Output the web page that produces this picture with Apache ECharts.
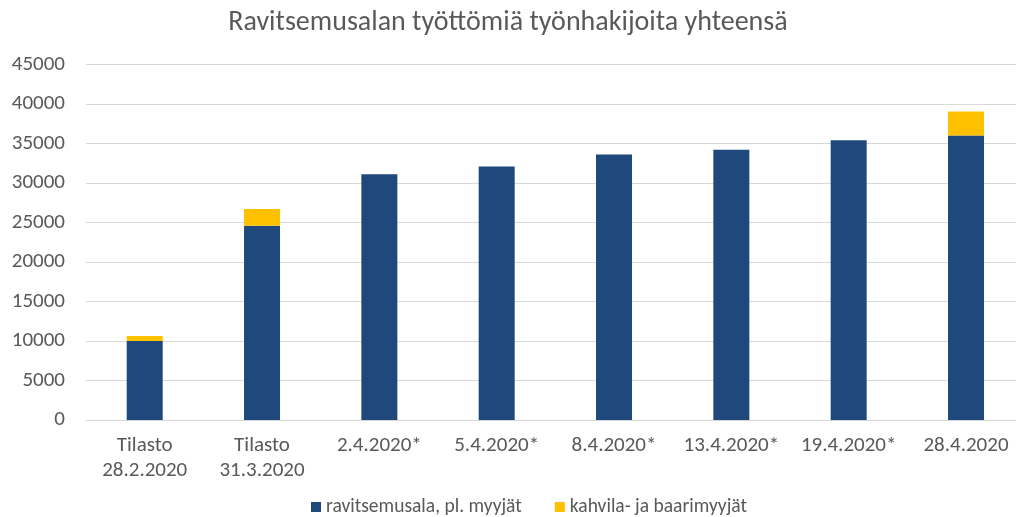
<!DOCTYPE html>
<html>
<head>
<meta charset="utf-8">
<script src="https://cdn.jsdelivr.net/npm/echarts@6/dist/echarts.min.js"></script>
<style>
  html, body { margin: 0; padding: 0; background: #fff; }
  #chart { width: 1016px; height: 517px; }
</style>
</head>
<body>
<div id="chart"></div>
<script>
var chartTitle = 'Ravitsemusalan työttömiä työnhakijoita yhteensä';
var categories = ['Tilasto\n28.2.2020', 'Tilasto\n31.3.2020', '2.4.2020*', '5.4.2020*', '8.4.2020*', '13.4.2020*', '19.4.2020*', '28.4.2020'];
var seriesNames = ['ravitsemusala, pl. myyjät', 'kahvila- ja baarimyyjät'];
var ravitsemusala = [10000, 24600, 31100, 32100, 33600, 34200, 35400, 36000];
var kahvilaBaari = [640, 2100, '-', '-', '-', '-', '-', 3050];

var font = 'Carlito, Calibri, Lato, sans-serif';
var myChart = echarts.init(document.getElementById('chart'));
// grid 0 draws the gridlines, grid 1 places the bars (the original plot runs off the right edge)
var option = {
  backgroundColor: '#fff',
  title: {
    text: chartTitle,
    left: 'center',
    top: 4,
    textStyle: { fontFamily: font, fontSize: 28, fontWeight: 'normal', color: '#595959' }
  },
  legend: {
    data: seriesNames,
    top: 492,
    left: 306,
    itemWidth: 10,
    itemHeight: 10,
    itemGap: 33,
    icon: 'rect',
    textStyle: { fontFamily: font, fontSize: 19.5, color: '#595959' }
  },
  grid: [
    { left: 86, top: 64.5, right: 0, bottom: 97, containLabel: false },
    { left: 144.7, top: 64.5, right: 50, bottom: 97, containLabel: false }
  ],
  xAxis: [
    {
      type: 'category',
      gridIndex: 0,
      data: categories,
      axisLine: { lineStyle: { color: '#d9d9d9' } },
      axisTick: { show: false },
      axisLabel: { show: false }
    },
    {
      type: 'category',
      gridIndex: 1,
      boundaryGap: false,
      data: categories,
      axisLine: { show: false },
      axisTick: { show: false },
      axisLabel: { fontFamily: font, fontSize: 21, color: '#595959', margin: 13, lineHeight: 25, interval: 0 }
    }
  ],
  yAxis: [
    {
      type: 'value',
      gridIndex: 0,
      min: 0,
      max: 45000,
      interval: 5000,
      axisLine: { show: false },
      axisTick: { show: false },
      splitLine: { lineStyle: { color: '#d9d9d9' } },
      axisLabel: { fontFamily: font, fontSize: 21, color: '#595959', margin: 21, formatter: function (v) { return String(v); } }
    },
    {
      type: 'value',
      gridIndex: 1,
      min: 0,
      max: 45000,
      interval: 5000,
      show: false,
      splitLine: { show: false }
    }
  ],
  series: [
    {
      name: seriesNames[0],
      type: 'bar',
      xAxisIndex: 1,
      yAxisIndex: 1,
      stack: 'total',
      barWidth: 36,
      clip: false,
      itemStyle: { color: '#1f497d' },
      data: ravitsemusala
    },
    {
      name: seriesNames[1],
      type: 'bar',
      xAxisIndex: 1,
      yAxisIndex: 1,
      stack: 'total',
      barWidth: 36,
      clip: false,
      itemStyle: { color: '#ffc000' },
      data: kahvilaBaari
    }
  ]
};
myChart.setOption(option);
</script>
</body>
</html>
